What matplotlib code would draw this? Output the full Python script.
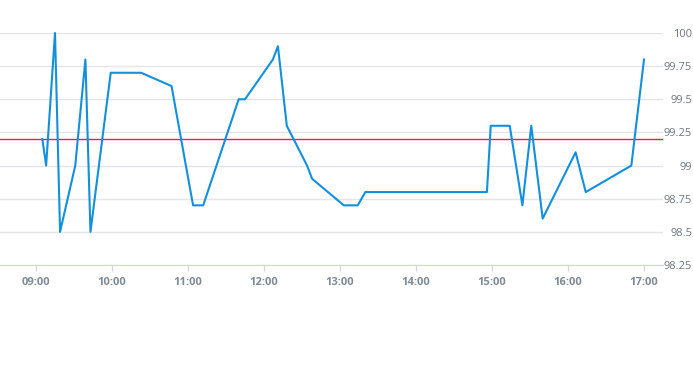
import matplotlib
matplotlib.use('Agg')
import matplotlib.pyplot as plt

plt.rcParams['font.family'] = ['Open Sans', 'DejaVu Sans']

times = ['09:05', '09:08', '09:15', '09:19', '09:31', '09:39', '09:43', '09:59',
         '10:23', '10:47', '11:04', '11:12', '11:40', '11:45', '12:07', '12:11',
         '12:18', '12:34', '12:38', '13:03', '13:14', '13:20', '14:56', '14:59',
         '15:14', '15:24', '15:31', '15:40', '16:06', '16:14', '16:50', '17:00']
values = [99.2, 99.0, 100.0, 98.5, 99.0, 99.8, 98.5, 99.7,
          99.7, 99.6, 98.7, 98.7, 99.5, 99.5, 99.8, 99.9,
          99.3, 99.0, 98.9, 98.7, 98.7, 98.8, 98.8, 99.3,
          99.3, 98.7, 99.3, 98.6, 99.1, 98.8, 99.0, 99.8]
threshold = 99.2
x_ticks = ['09:00', '10:00', '11:00', '12:00', '13:00', '14:00', '15:00', '16:00', '17:00']
y_ticks = [98.25, 98.5, 98.75, 99, 99.25, 99.5, 99.75, 100]
y_labels = ['98.25', '98.5', '98.75', '99', '99.25', '99.5', '99.75', '100']


def to_hours(t):
    h, m = t.split(':')
    return int(h) + int(m) / 60


x = [to_hours(t) for t in times]
xt = [to_hours(t) for t in x_ticks]

fig = plt.figure(figsize=(6.93, 3.65), dpi=100)
ax = fig.add_axes([0, 0.274, 663 / 693, 0.9096 - 0.274])

ax.plot(x, values, color='#1390dc', lw=1.5, clip_on=False, zorder=3)
ax.axhline(threshold, color='#d0312d', lw=1, zorder=2)

ax.set_xlim(9 - 36 / 76, 17 + 19 / 76)
ax.set_ylim(98.25, 100)

ax.set_yticks(y_ticks)
ax.set_yticklabels(y_labels)
ax.yaxis.tick_right()
ax.tick_params(axis='y', length=0, pad=21, labelsize=8, labelcolor='#6e7681')
for lab in ax.get_yticklabels():
    lab.set_horizontalalignment('right')
ax.grid(axis='y', color='#e3e5e8', lw=1)

ax.set_xticks(xt)
ax.set_xticklabels(x_ticks, fontweight='bold')
ax.tick_params(axis='x', length=4, color='#ccd6eb', pad=5, labelsize=8, labelcolor='#7f8a99')

for s in ['top', 'left', 'right']:
    ax.spines[s].set_visible(False)
ax.spines['bottom'].set_color('#ccd6eb')
ax.set_axisbelow(True)

fig.savefig('out.png', dpi=100)
